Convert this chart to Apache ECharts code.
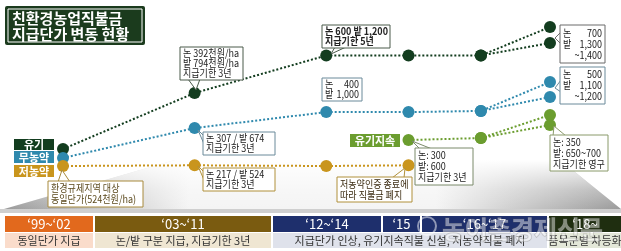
<!DOCTYPE html>
<html><head><meta charset="utf-8">
<script src="https://cdn.jsdelivr.net/npm/echarts@6/dist/echarts.min.js"></script>
<style>html,body{margin:0;padding:0;background:#fff}#c{width:621px;height:251px}</style>
</head><body><div id="c"></div>
<script>
// schematic stage positions along the timeline ('99, '03, '12, '15, '16, '18)
const stageNames = ['1999', '2003', '2012', '2015', '2016', '2018'];
const stagePos = [0, 2, 4, 5.25, 6.35, 7.4];
// relative payment level (schematic height)
const organic = [12.2, 52.5, 79.5, 79.5, 79.5, 100];
const organicLow2018 = 88.5;
const noPesticide = [5.8, 27.3, 38.8, 38.8, 39.6, 60.4];
const noPesticideLow2018 = 49.6;
const lowPesticide = [0, 0.5, 0, 0.5, null, null];
const organicCont = [null, null, null, 18.7, 20.1, 36.7];
const organicContLow2018 = 29.5;

const C = {org:'#133d1f', blue:'#2f89ad', gold:'#c9951d', cont:'#6b9d2f'};
const KR = '"Noto Sans CJK KR","Noto Sans",sans-serif';

function pts(arr){ return arr.map((v,i)=> v==null?null:[stagePos[i], v]).filter(p=>p); }
function lineS(name, data, color){
  return {type:'line', name, data, symbol:'circle', symbolSize:12, z:5,
    itemStyle:{color}, lineStyle:{color, width:2, type:[2,2]}, silent:true, animation:false};
}
const series = [
  lineS('유기', pts(organic), C.org),
  lineS('유기b', [[stagePos[4],organic[4]],[stagePos[5],organicLow2018]], C.org),
  lineS('무농약', pts(noPesticide), C.blue),
  lineS('무농약b', [[stagePos[4],noPesticide[4]],[stagePos[5],noPesticideLow2018]], C.blue),
  lineS('저농약', pts(lowPesticide), C.gold),
  lineS('유기지속', pts(organicCont), C.cont),
  lineS('유기지속b', [[stagePos[4],organicCont[4]],[stagePos[5],organicContLow2018]], C.cont),
];

const g = [];
// floor wedge
g.push({type:'polygon', z:0, shape:{points:[[4,209],[175,160],[560,160],[621,209]]},
  style:{fill:new echarts.graphic.LinearGradient(0,0,1,0,[
    {offset:0,color:'#9a9a9a'},{offset:0.3,color:'#f4f4f4'},{offset:0.7,color:'#f4f4f4'},{offset:1,color:'#9a9a9a'}])}});
g.push({type:'polygon', z:0, shape:{points:[[4,209],[175,160],[560,160],[621,209]]},
  style:{fill:new echarts.graphic.LinearGradient(0,0,0,1,[
    {offset:0,color:'rgba(255,255,255,1)'},{offset:0.6,color:'rgba(255,255,255,0.3)'},{offset:1,color:'rgba(255,255,255,0)'}])}});
g.push({type:'rect', z:0, shape:{x:0,y:209,width:621,height:4}, style:{fill:'#cfcfcf'}});

// title
g.push({type:'rect', z:10, shape:{x:5,y:6,width:140,height:39,r:2}, style:{fill:'#1b3b1d'}});
g.push({type:'rect', z:10, shape:{x:8,y:9,width:134,height:33}, style:{fill:'none',stroke:'#ffffff',lineWidth:1}});
g.push({type:'text', z:11, style:{text:'친환경농업직불금', x:12, y:18, font:'bold 15px '+KR, fill:'#fff', verticalAlign:'middle'}});
g.push({type:'text', z:11, style:{text:'지급단가 변동 현황', x:12, y:34, font:'bold 15px '+KR, fill:'#fff', verticalAlign:'middle'}});

// legend tags
function tag(x,y,w,h,fill,text){
  g.push({type:'rect', z:10, shape:{x,y,width:w,height:h}, style:{fill}});
  g.push({type:'text', z:11, style:{text, x:x+w/2, y:y+h/2+0.5, font:'bold 11px '+KR, fill:'#fff', align:'center', verticalAlign:'middle'}});
}
tag(14,139,40,11,C.org,'유기');
tag(14,151,40,12,C.blue,'무농약');
tag(14,165,40,12,C.gold,'저농약');
tag(350,134,50,13,C.cont,'유기지속');

// callout boxes
const SX = 0.86;
function txt(t,x,y,color,align,bold){
  g.push({type:'text', z:14, x, y, scaleX:SX,
    style:{text:t, x:0, y:0, font:(bold?'bold ':'')+'10.5px '+KR, fill:color, align:align||'left', verticalAlign:'middle'}});
}
function box(x,y,w,h,stroke,lines,color,tail,opts){
  opts = opts||{};
  color = color||'#333';
  if(tail){ g.push({type:'polygon', z:12, shape:{points:tail}, style:{fill:'#fff',stroke,lineWidth:1}}); }
  g.push({type:'rect', z:13, shape:{x,y,width:w,height:h}, style:{fill:'#fff',stroke,lineWidth:1}});
  const lh = opts.lh||10;
  const top = y + (h - lh*Math.max(lines.length,(opts.right||[]).length))/2;
  lines.forEach((t,i)=> txt(t, x+3, top+lh*i+lh/2, color, 'left', opts.bold));
  (opts.right||[]).forEach((t,i)=> txt(t, x+w-3, top+lh*i+lh/2, color, 'right', opts.bold));
}
box(48,181,95,26,'#a88a3c',['환경규제지역 대상','동일단가(524천원/ha)'],'#5c4a1e',[[62,170],[58,182],[70,182]],{lh:11});
box(180,47,63,33,'#4a5a4a',['논 392천원/ha','밭 794천원/ha','지급기한 3년'],'#222',[[196,90],[188,79],[200,79]]);
box(203,132,72,23,'#6a8a9a',['논 307 / 밭 674','지급기한 3년'],'#222',[[198,130],[204,136],[204,144]]);
box(203,168,72,23,'#b0903a',['논 217 / 밭 524','지급기한 3년'],'#222',[[198,166],[204,172],[204,180]]);
box(322,25,68,23,'#4a5a4a',['논 600 밭 1,200','지급기한 5년'],'#222',[[331,54],[335,47],[346,47]],{bold:true});
box(322,78,40,23,'#6a8a9a',['논','밭'],'#222',null,{right:['400','1,000']});
box(337,177,75,25,'#b0903a',['저농약인증 종료에','따라 직불금 폐지'],'#3a2a10',[[405,168],[392,178],[404,178]],{lh:11});
box(415,148,58,37,'#7a8a6a',['논: 300','밭: 600','지급기한 3년'],'#222',[[412,141],[420,149],[432,149]],{lh:11});
box(560,25,45,38,'#6a6a6a',['논','밭'],'#222',[[555,38],[561,32],[561,44]],{right:['700','1,300','~1,400'],lh:11});
box(560,67,45,37,'#6a8a9a',['논','밭'],'#222',[[555,88],[561,80],[561,92]],{right:['500','1,100','~1,200'],lh:11});
box(550,135,58,36,'#8a9a6a',['논: 350','밭: 650~700','지급기한 영구'],'#222',[[554,126],[553,136],[566,136]],{lh:11});

// bottom timeline
const cells = [
  {x:5,w:88,c:'#e2691d',t:'‘99~‘02'},
  {x:95,w:176,c:'#7a5b10',t:'‘03~‘11'},
  {x:273,w:108,c:'#1e2f6c',t:'‘12~‘14'},
  {x:383,w:37,c:'#1e2f6c',t:'‘15'},
  {x:422,w:125,c:'#1e2f6c',t:'‘16~‘17'},
  {x:549,w:72,c:'#1f2e10',t:'‘18~'}
];
cells.forEach(cl=>{
  g.push({type:'rect', z:10, shape:{x:cl.x,y:216,width:cl.w,height:16}, style:{fill:cl.c}});
  g.push({type:'text', z:11, style:{text:cl.t, x:cl.x+cl.w/2, y:224.5, font:'13px '+KR, fill:'#fff', align:'center', verticalAlign:'middle'}});
});
const descs = [
  {x:5,w:88,c:'#fadccb',t:'동일단가 지급'},
  {x:95,w:176,c:'#efe6d2',t:'논/밭 구분 지급, 지급기한 3년'},
  {x:273,w:274,c:'#dfe2eb',t:'지급단가 인상, 유기지속직불 신설, 저농약직불 폐지'},
  {x:549,w:72,c:'#e3e7d8',t:'품목군별 차등화'}
];
descs.forEach(d=>{
  g.push({type:'rect', z:10, shape:{x:d.x,y:233,width:d.w,height:15}, style:{fill:d.c}});
  g.push({type:'text', z:11, style:{text:d.t, x:d.x+d.w/2, y:241, font:'11px '+KR, fill:'#333', align:'center', verticalAlign:'middle'}});
});
// watermark
g.push({type:'circle', z:20, shape:{cx:427,cy:226,r:9}, style:{fill:'none',stroke:'rgba(255,255,255,0.5)',lineWidth:2}});
g.push({type:'text', z:20, style:{text:'농어촌경제신문', x:442, y:229, font:'bold 25px '+KR, fill:'rgba(255,255,255,0.45)', stroke:'rgba(110,110,110,0.35)', lineWidth:1, verticalAlign:'middle'}});

const chart = echarts.init(document.getElementById('c'), null, {renderer:'canvas'});
chart.setOption({
  animation:false,
  grid:{left:63, right:71, top:27, bottom:85},
  xAxis:{type:'value', min:0, max:7.4, show:false},
  yAxis:{type:'value', min:0, max:100, show:false},
  series,
  graphic:g
});
</script></body></html>
